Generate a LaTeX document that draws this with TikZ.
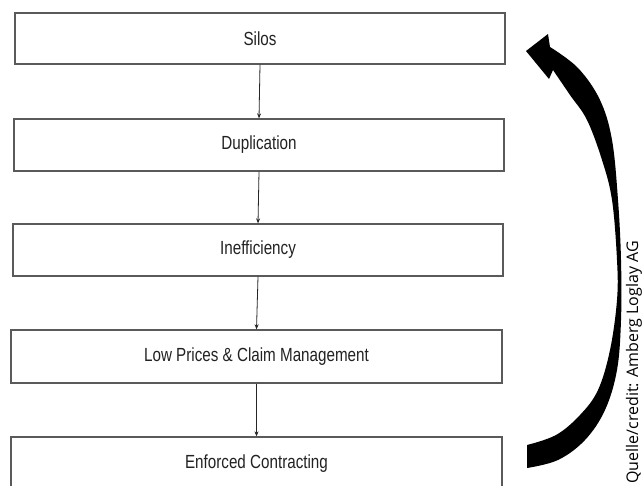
\documentclass[tikz,border=0pt]{standalone}
\usepackage{fontspec}
\setmainfont{Liberation Sans}
\newfontfamily\boxfont[FakeStretch=0.8]{Liberation Sans}
\newfontfamily\creditfont{Open Sans}
\usetikzlibrary{arrows.meta}
\definecolor{boxline}{HTML}{5A5A5A}
\definecolor{txt}{HTML}{222222}
\tikzset{
  flowbox/.style={draw=boxline, line width=1.3pt, fill=white, minimum height=52pt, inner sep=0pt,
    text=txt, font=\boxfont\fontsize{19}{22}\selectfont},
  conn/.style={draw=black!85, line width=0.8pt, -{Stealth[length=5pt,width=4pt]}},
}
\begin{document}
\begin{tikzpicture}[x=1pt,y=-1pt]
\useasboundingbox (0,0) rectangle (644,485);
\clip (0,0) rectangle (644,485);
\fill[white] (0,0) rectangle (644,485);
\node[flowbox, minimum width=490pt, minimum height=51pt] (b1) at (260,38.5) {Silos};
\node[flowbox, minimum width=490pt] (b2) at (259,145) {Duplication};
\node[flowbox, minimum width=490pt] (b3) at (258,250) {Inefficiency};
\node[flowbox, minimum width=491pt, minimum height=53pt] (b4) at (256.5,356.5) {Low Prices \& Claim Management};
\node[flowbox, minimum width=491pt, minimum height=53pt] (b5) at (256.5,463.5) {Enforced Contracting};
\draw[conn] (b1.south) -- (b2.north);
\draw[conn] (b2.south) -- (b3.north);
\draw[conn] (b3.south) -- (b4.north);
\draw[conn] (b4.south) -- (b5.north);
% big curved return arrow
\coordinate (tip) at (526,51);
\fill[black] (tip) -- (548,34) -- plot[smooth, tension=0.6] coordinates {(550,47) (578,68) (600,100) (612,140) (618,200) (621,260) (621,320) (617,370) (605,410) (585,440) (558,460) (527,468)}
  -- plot[smooth, tension=0.6] coordinates {(527,445) (556,435) (580,415) (598,390) (610,350) (617,300) (617,260) (612,200) (602,160) (587,120) (570,95) (553,70)}
  -- (549,79) -- cycle;
\node[rotate=90, anchor=base west, inner sep=0pt, font=\creditfont\fontsize{16}{18}\selectfont] (credit) at (638,484) {Quelle/credit: Amberg Loglay AG};
\end{tikzpicture}
\end{document}
